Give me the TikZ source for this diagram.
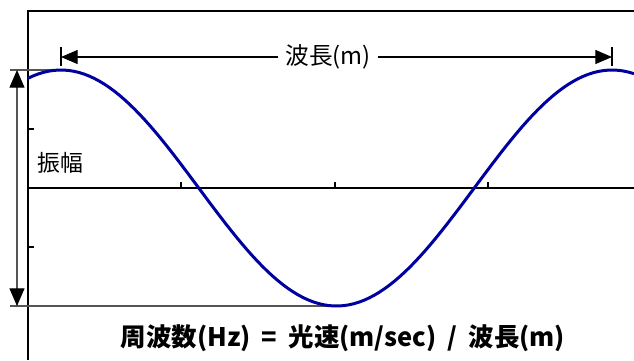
\documentclass[tikz,border=0pt]{standalone}
\usepackage{fontspec}
\setmainfont{Noto Sans CJK JP}
\usetikzlibrary{arrows.meta}
\definecolor{WaveBlue}{RGB}{0,0,160}
\definecolor{DimGray}{RGB}{85,85,85}
\tikzset{
  axisline/.style={line width=1.2pt,draw=black},
  tickline/.style={line width=1.1pt,draw=black},
  waveline/.style={line width=1.7pt,draw=WaveBlue,line join=round},
  refline/.style={line width=0.6pt,draw=DimGray},
  barline/.style={line width=0.6pt,draw=black},
  dimarrow/.style={-{Triangle[length=9.5pt,width=8pt]},line width=0.6pt,draw=black},
  amparrow/.style={{Triangle[length=10pt,width=8.5pt,color=black]}-{Triangle[length=10pt,width=8.5pt,color=black]},
    line width=0.6pt,draw=DimGray},
  wavelabel/.style={fill=white,inner sep=4pt,font=\fontsize{13.5}{15}\selectfont},
  amplabel/.style={inner sep=0pt,font=\fontsize{13}{15}\selectfont},
  formula/.style={inner sep=0pt,font=\bfseries\fontsize{14.5}{17}\selectfont},
}

\begin{document}
\begin{tikzpicture}[x=0.02cm,y=-0.02cm]
\useasboundingbox (0,0) rectangle (634,360);
\coordinate (peakL) at (61,70);
\coordinate (peakR) at (612,70);
\coordinate (trough) at (335,306);
\coordinate (ampTop) at (17,70);
\coordinate (ampBot) at (17,306);
\coordinate (wlL) at (61,57);
\coordinate (wlR) at (612,57);
\draw[axisline] (28,360) -- (28,11) -- (634,11);
\draw[axisline] (28,188) -- (634,188);
\foreach \x in {181,335,488}
  \draw[tickline] (\x,188) -- (\x,182);
\foreach \y in {129,247}
  \draw[tickline] (28,\y) -- (34,\y);
\draw[refline] (10,70) -- (peakL);
\draw[refline] (10,306) -- (trough);
\draw[amparrow] (ampBot) -- (ampTop);
\draw[waveline] plot[domain=28:634,samples=120] (\x,{188-118*cos(0.65336*(\x-61))});
\node[wavelabel] (wl) at (328,57) {波長(m)};
\draw[dimarrow] (wl.west) -- (wlL);
\draw[dimarrow] (wl.east) -- (wlR);
\draw[barline] (61,47) -- (61,66);
\draw[barline] (612,47) -- (612,66);
\node[amplabel] (amp) at (60,163) {振幅};
\node[formula] (freq) at (343,338) {周波数(Hz)\hspace{3pt} = \hspace{3pt}光速(m/sec)\hspace{3pt} / \hspace{3pt}波長(m)};
\end{tikzpicture}
\end{document}
